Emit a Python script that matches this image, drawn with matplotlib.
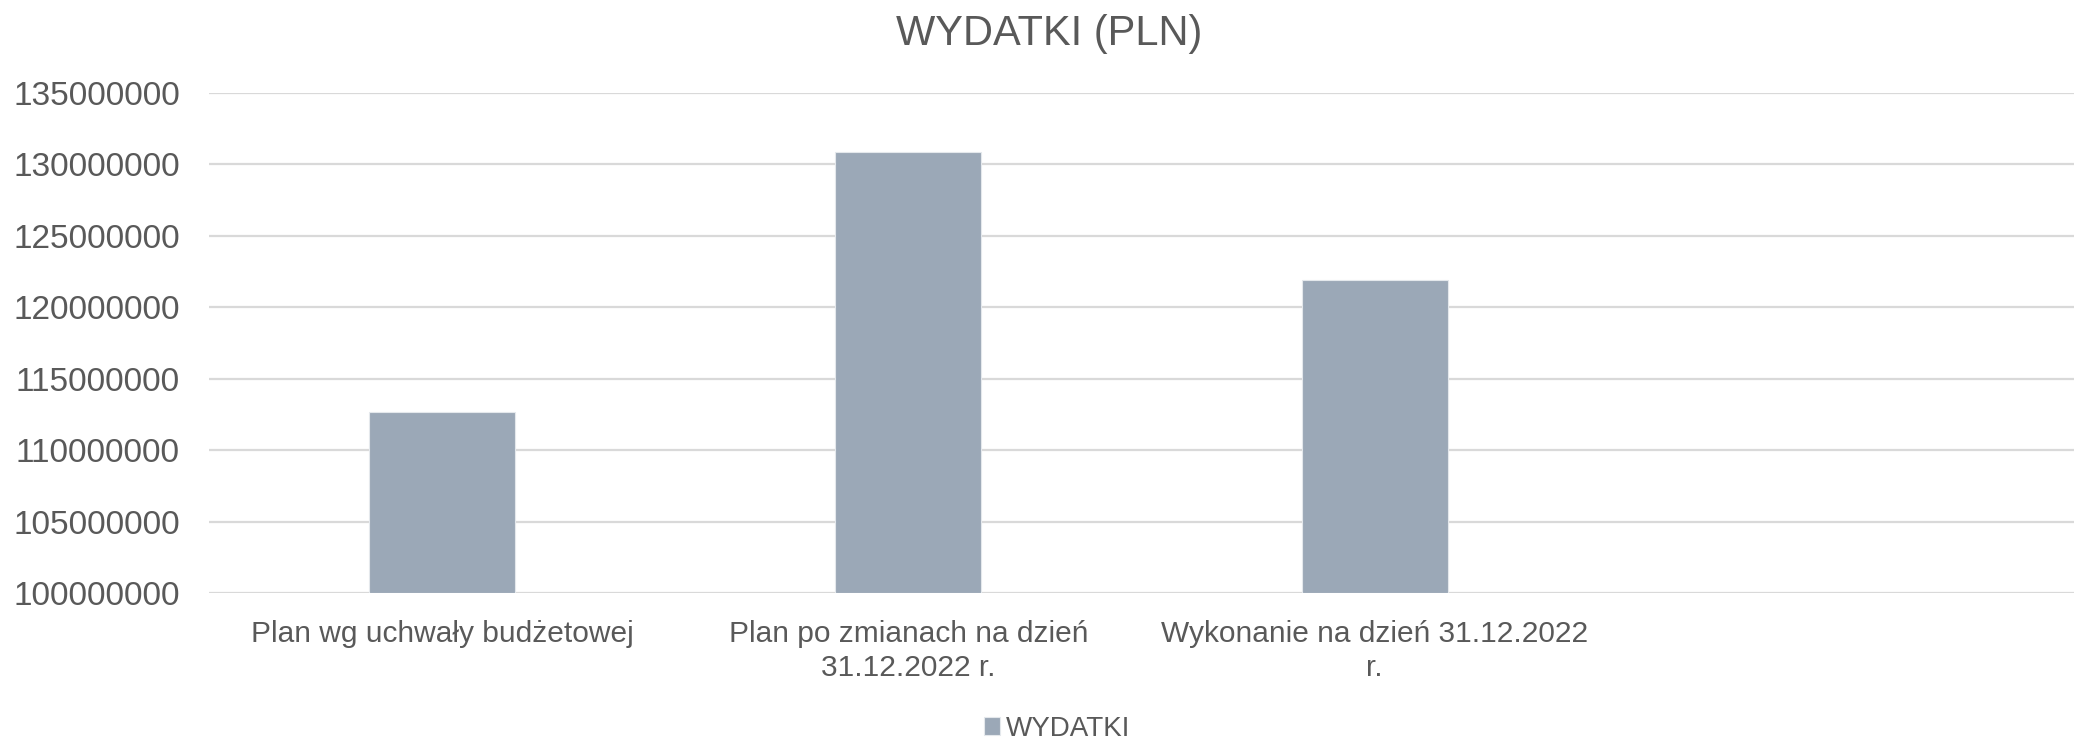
import matplotlib
matplotlib.use("Agg")
import matplotlib.pyplot as plt

# dane
categories = ["Plan wg uchwały budżetowej",
              "Plan po zmianach na dzień\n31.12.2022 r.",
              "Wykonanie na dzień 31.12.2022\nr.",
              ""]
wydatki = [112680000, 130840000, 121930000]
yticks = [100000000, 105000000, 110000000, 115000000,
          120000000, 125000000, 130000000, 135000000]

text_color = "#595959"
bar_color = "#9BA8B7"
grid_color = "#D9D9D9"

plt.rcParams["font.family"] = ["Liberation Sans", "DejaVu Sans"]

fig = plt.figure(figsize=(20.74, 7.43), dpi=100)
ax = fig.add_axes([0.1008, 0.2015, 0.8992, 0.6737])

x = list(range(len(wydatki)))
ax.bar(x, [v - yticks[0] for v in wydatki], bottom=yticks[0], width=0.313,
       color=bar_color, edgecolor="#E4E8EC", linewidth=0.8, label="WYDATKI", zorder=3)

ax.set_xlim(-0.5, len(categories) - 0.5)
ax.set_ylim(yticks[0], yticks[-1])
ax.set_yticks(yticks)
ax.set_yticklabels([str(t) for t in yticks], fontsize=24, color=text_color)
ax.set_xticks(range(len(categories)))
ax.set_xticklabels(categories, fontsize=21.5, color=text_color, linespacing=1.3)
ax.tick_params(axis="both", length=0)
ax.tick_params(axis="x", pad=19)
ax.tick_params(axis="y", pad=21)

ax.yaxis.grid(True, color=grid_color, linewidth=1.6, zorder=0)
ax.set_axisbelow(True)
for s in ax.spines.values():
    s.set_visible(False)

fig.text(0.506, 1 - 34 / 743, "WYDATKI (PLN)", ha="center", va="center",
         fontsize=30, color=text_color)

fig.legend(loc="center", bbox_to_anchor=(1057 / 2074, 1 - 729 / 743), frameon=False,
           fontsize=20, labelcolor=text_color, handlelength=0.6, handleheight=0.6,
           handletextpad=0.2)

fig.savefig("out.png", dpi=100)
